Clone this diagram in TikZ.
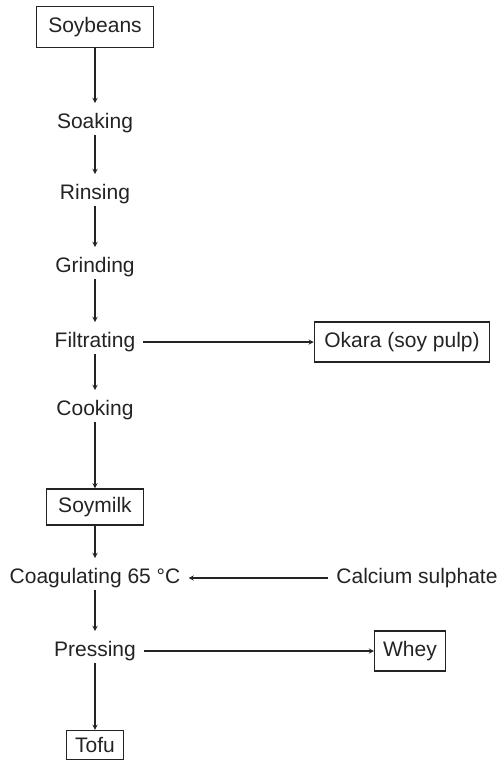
\documentclass[tikz,border=0pt]{standalone}
\usepackage{fontspec}
\setmainfont{Liberation Sans}
\usepackage{xcolor}
\usetikzlibrary{arrows,positioning}
\definecolor{inkgray}{RGB}{35,35,35}

\begin{document}
\begin{tikzpicture}[
    x=1pt, y=1pt, on grid,
    every node/.style={font=\fontsize{21}{25}\selectfont, text=inkgray},
    stage/.style={inner xsep=8pt, inner ysep=2pt},
    box/.style={rectangle, draw=inkgray, line width=1.3pt, inner xsep=10pt, minimum height=40pt},
    arrow/.style={->, >=stealth, line width=1.3pt, color=inkgray},
    tostage/.style={shorten >=8pt}
]
\useasboundingbox (0,0) rectangle (503,-763);

% Main process column
\node[box, inner xsep=12pt, minimum height=41pt] (soy) at (95,-27) {Soybeans};
\node[stage, below=96pt of soy] (soak) {Soaking};
\node[stage, below=71pt of soak] (rinse) {Rinsing};
\node[stage, below=73pt of rinse] (grind) {Grinding};
\node[stage, below=75pt of grind] (filt) {Filtrating};
\node[stage, below=68pt of filt] (cook) {Cooking};
\node[box, minimum height=36pt, inner xsep=12pt, below=97pt of cook] (milk) {Soymilk};
\node[stage, below=71pt of milk] (coag) {Coagulating 65 °C};
\node[stage, below=73pt of coag] (press) {Pressing};
\node[box, minimum height=29pt, inner xsep=8.5pt, below=94pt of press] (tofu) {Tofu};

% Side streams
\node[box, right=307pt of filt] (okara) {Okara (soy pulp)};
\node[stage, right=322pt of coag] (calc) {Calcium sulphate};
\node[box, inner xsep=8.5pt, right=315pt of press] (whey) {Whey};

% Arrows
\draw[arrow, tostage] (soy) -- (soak);
\draw[arrow, tostage] (soak) -- (rinse);
\draw[arrow, tostage] (rinse) -- (grind);
\draw[arrow, tostage] (grind) -- (filt);
\draw[arrow, tostage] (filt) -- (cook);
\draw[arrow] (cook) -- (milk);
\draw[arrow, tostage] (milk) -- (coag);
\draw[arrow, tostage] (coag) -- (press);
\draw[arrow] (press) -- (tofu);

\draw[arrow] (filt) -- (okara);
\draw[arrow] (calc) -- (coag);
\draw[arrow] (press) -- (whey);

\end{tikzpicture}
\end{document}
